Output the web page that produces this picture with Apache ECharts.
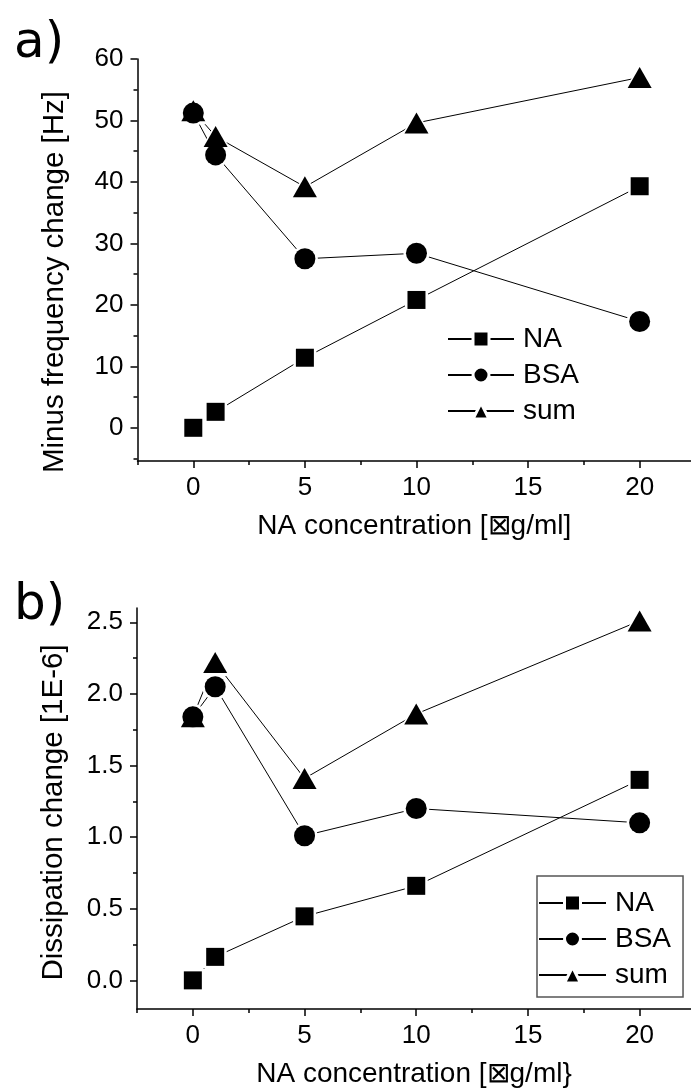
<!DOCTYPE html>
<html>
<head>
<meta charset="utf-8">
<script src="https://cdn.jsdelivr.net/npm/echarts@6/dist/echarts.min.js"></script>
<style>
  html, body { margin: 0; padding: 0; background: #fff; }
  #container { width: 691px; height: 1090px; }
</style>
</head>
<body>
<div id="container"></div>
<script>
// NA concentration (x) shared by both panels
var conc = [0, 1, 5, 10, 20];

// panel a) minus frequency change [Hz]
var naFreq  = [0, 2.6, 11.4, 20.8, 39.3];
var bsaFreq = [51.2, 44.4, 27.5, 28.4, 17.3];
var sumFreq = [51.6, 47.4, 39.2, 49.6, 57.0];

// panel b) dissipation change [1E-6]
var naDiss  = [0, 0.164, 0.447, 0.66, 1.40];
var bsaDiss = [1.84, 2.05, 1.01, 1.20, 1.10];
var sumDiss = [1.84, 2.22, 1.41, 1.86, 2.51];

// tick positions
var xMajor = [0, 5, 10, 15, 20];
var xMinor = [-2.5, 2.5, 7.5, 12.5, 17.5];
var yMajorA = [0, 10, 20, 30, 40, 50, 60];
var yMinorA = [-5, 5, 15, 25, 35, 45, 55];
var yMajorB = [0, 0.5, 1, 1.5, 2, 2.5];
var yMinorB = [0.25, 0.75, 1.25, 1.75, 2.25];

var names = ['NA', 'BSA', 'sum'];

var FONT = '"Liberation Sans", Arial, sans-serif';

function pairs(ys) {
    return conc.map(function (x, i) { return [x, ys[i]]; });
}

// tick-only axis laid over the main one
function tickAxis(g, pos, min, max, values, len) {
    return {
        type: 'value', gridIndex: g, position: pos,
        min: min, max: max,
        axisLine: { show: false, onZero: false },
        axisTick: { show: true, customValues: values, length: len, lineStyle: { color: '#000', width: 1.5 } },
        axisLabel: { show: false },
        splitLine: { show: false }
    };
}

function xAxes(g, title) {
    return [{
        type: 'value', gridIndex: g, position: 'bottom',
        min: -2.5, max: 22.3,
        axisLine: { show: true, onZero: false, lineStyle: { color: '#000', width: 1.5 } },
        axisTick: { show: false },
        axisLabel: { customValues: xMajor, color: '#000', fontSize: 26, fontFamily: FONT, margin: 14 },
        splitLine: { show: false },
        name: title, nameLocation: 'middle', nameGap: 51,
        nameTextStyle: { color: '#000', fontSize: 28, fontFamily: FONT }
    },
    tickAxis(g, 'bottom', -2.5, 22.3, xMajor, 7),
    tickAxis(g, 'bottom', -2.5, 22.3, xMinor, 4)];
}

function yAxes(g, min, max, major, minor, fmt, title, shift) {
    return [{
        type: 'value', gridIndex: g, position: 'left',
        min: min, max: max,
        axisLine: { show: true, onZero: false, lineStyle: { color: '#000', width: 1.5 } },
        axisTick: { show: false },
        axisLabel: { customValues: major, color: '#000', fontSize: 26, fontFamily: FONT, margin: 14, formatter: fmt },
        splitLine: { show: false },
        name: title, nameLocation: 'middle', nameGap: 68, nameRotate: 90,
        nameTextStyle: { color: '#000', fontSize: 29.5, fontFamily: FONT, padding: [0, shift, 0, 0] }
    },
    tickAxis(g, 'left', min, max, major, 7),
    tickAxis(g, 'left', min, max, minor, 4)];
}

var marks = {
    NA:  { symbol: 'rect', size: [18, 18], halo: [23, 23] },
    BSA: { symbol: 'circle', size: [21, 21], halo: [26, 26] },
    sum: { symbol: 'triangle', size: [24, 21], halo: [31, 27] }
};

// lines only; legend takes its icon from these
function lineSeries(g, name, ys) {
    return {
        name: name, type: 'line',
        xAxisIndex: 3 * g, yAxisIndex: 3 * g,
        data: pairs(ys),
        z: 2,
        symbol: marks[name].symbol, symbolSize: marks[name].size,
        showSymbol: false,
        lineStyle: { color: '#000', width: 1 },
        itemStyle: { color: '#000' },
        emphasis: { disabled: true }
    };
}

// white halo that keeps lines off the markers, then the marker itself
function markSeries(g, name, ys, halo) {
    var m = marks[name];
    return {
        type: 'scatter',
        xAxisIndex: 3 * g, yAxisIndex: 3 * g,
        data: pairs(ys),
        z: halo ? 3 : 4,
        symbol: m.symbol, symbolSize: halo ? m.halo : m.size,
        itemStyle: { color: halo ? '#fff' : '#000', opacity: 1 },
        emphasis: { disabled: true },
        silent: true
    };
}

var legendBase = {
    orient: 'vertical',
    data: names,
    itemWidth: 66, itemHeight: 20, itemGap: 8,
    itemStyle: { color: '#000', borderColor: '#fff', borderWidth: 3 },
    textStyle: { color: '#000', fontSize: 28, fontFamily: FONT, padding: [0, 0, 0, 4] },
    selectedMode: false
};

var dom = document.getElementById('container');
var myChart = echarts.init(dom, null, { renderer: 'canvas' });

var panels = [
    { na: naFreq, bsa: bsaFreq, sum: sumFreq },
    { na: naDiss, bsa: bsaDiss, sum: sumDiss }
];

var series = [];
panels.forEach(function (p, g) {
    series.push(lineSeries(g, 'NA', p.na), lineSeries(g, 'BSA', p.bsa), lineSeries(g, 'sum', p.sum));
    series.push(markSeries(g, 'sum', p.sum, true), markSeries(g, 'BSA', p.bsa, true), markSeries(g, 'NA', p.na, true));
    series.push(markSeries(g, 'sum', p.sum, false), markSeries(g, 'BSA', p.bsa, false), markSeries(g, 'NA', p.na, false));
});

var option = {
    backgroundColor: '#FFFFFF',
    animation: false,
    grid: [
        { left: 137.5, top: 59, right: 0, height: 402 },
        { left: 137, top: 608, right: 0, height: 401 }
    ],
    xAxis: xAxes(0, 'NA concentration [\u22A0g/ml]')
        .concat(xAxes(1, 'NA concentration [\u22A0g/ml}')),
    yAxis: yAxes(0, -5.4, 60, yMajorA, yMinorA, null, 'Minus frequency change [Hz]', 44)
        .concat(yAxes(1, -0.2, 2.6, yMajorB, yMinorB,
            function (v) { return v.toFixed(1); }, 'Dissipation change [1E-6]', 8)),
    legend: [
        Object.assign({}, legendBase, { left: 447, top: 325, padding: 0 }),
        Object.assign({}, legendBase, {
            left: 537, top: 876, padding: [13, 12, 8, 1],
            borderColor: '#555', borderWidth: 1.5, itemWidth: 67
        })
    ],
    graphic: [
        { type: 'text', left: 14, top: 19, style: { text: 'a)', fill: '#000', font: '50px "DejaVu Sans", sans-serif' } },
        { type: 'text', left: 14, top: 581, style: { text: 'b)', fill: '#000', font: '50px "DejaVu Sans", sans-serif' } }
    ],
    series: series
};

if (option && typeof option === 'object') {
    myChart.setOption(option, true);
    window.onresize = function () {
        myChart.resize();
    };
}
</script>
</body>
</html>
